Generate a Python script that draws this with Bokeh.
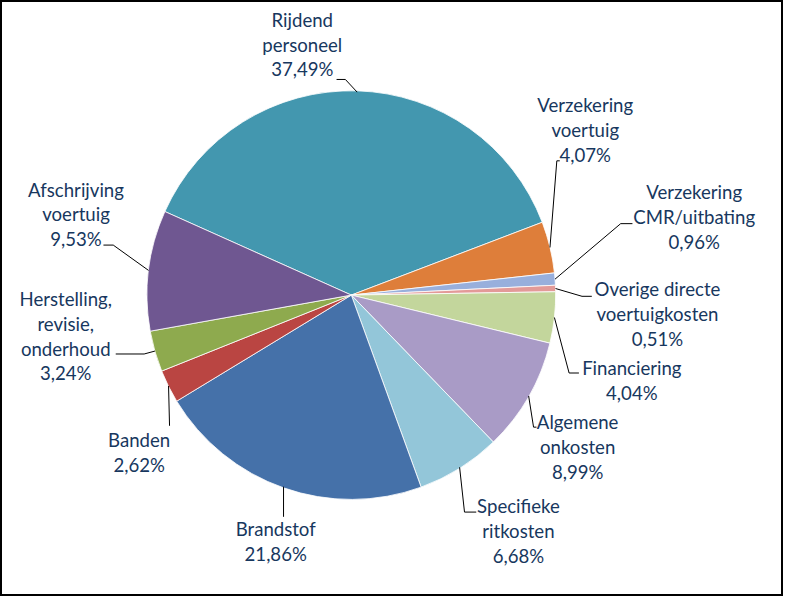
import math
from bokeh.plotting import figure
from bokeh.models import Range1d, ColumnDataSource
from bokeh.core.properties import value
from bokeh.embed import file_html
from bokeh.resources import INLINE

# ---- data (clockwise from the top slice) ----
categories = [
    "Rijdend personeel",
    "Verzekering voertuig",
    "Verzekering CMR/uitbating",
    "Overige directe voertuigkosten",
    "Financiering",
    "Algemene onkosten",
    "Specifieke ritkosten",
    "Brandstof",
    "Banden",
    "Herstelling, revisie, onderhoud",
    "Afschrijving voertuig",
]
percentages = [37.49, 4.07, 0.96, 0.51, 4.04, 8.99, 6.68, 21.86, 2.62, 3.24, 9.53]

# ---- styling / layout ----
palette = ["#4397AF", "#DE7E3A", "#98AFDC", "#E39A98", "#C3D69C",
           "#A99BC6", "#93C6D9", "#4571A9", "#BA4542", "#8EAA4E", "#6F5791"]
label_lines = [
    ["Rijdend", "personeel"],
    ["Verzekering", "voertuig"],
    ["Verzekering", "CMR/uitbating"],
    ["Overige directe", "voertuigkosten"],
    ["Financiering"],
    ["Algemene", "onkosten"],
    ["Specifieke", "ritkosten"],
    ["Brandstof"],
    ["Banden"],
    ["Herstelling,", "revisie,", "onderhoud"],
    ["Afschrijving", "voertuig"],
]
# offsets (px, y down) relative to the slice's outer mid point:
# text first-line centre, leader start, leader elbow
label_layout = [
    ((-56, -74), (-21, -13), (-12, -13)),
    ((36, -146), (10, -89), (7, -89)),
    ((142, -89), (79, -57), (67, -57)),
    ((104, 1), (37, 8), (27, 8)),
    ((79, 52), (25, 57), (15, 57)),
    ((50, 27), (8, 32), (5, 32)),
    ((60, 40), (17, 46), (5, 46)),
    ((-8, 44), (0, 31), (0, 31)),
    ((-30, 56), (1, 41), (1, 41)),
    ((-91, -53), (-40, 3), (-11, 3)),
    ((-74, -83), (-46, -26), (-36, -26)),
]

W, H = 799, 612
CX, CY = 358, H - 302.5
R = 208.5
START = 155.86   # degrees, math orientation, slices run clockwise
LINE_H = 25.3
FONT = "Lato"
TEXT_COLOR = "#17375E"

p = figure(width=783, height=596, output_backend="svg", toolbar_location=None,
           x_range=Range1d(0, W), y_range=Range1d(0, H),
           x_axis_location=None, y_axis_location=None, min_border=0)
p.grid.visible = False
p.outline_line_color = "black"
p.outline_line_width = 3
p.background_fill_color = "white"
p.border_fill_color = "white"

total = sum(percentages)
starts, ends, mids = [], [], []
acc = 0.0
for v in percentages:
    a0 = START - 360.0 * acc / total
    a1 = START - 360.0 * (acc + v) / total
    starts.append(math.radians(a1))
    ends.append(math.radians(a0))
    mids.append(math.radians((a0 + a1) / 2))
    acc += v

src = ColumnDataSource(dict(start=starts, end=ends, color=palette, cat=categories))
p.wedge(x=CX, y=CY, radius=R, start_angle="start", end_angle="end",
        direction="anticlock", fill_color="color",
        line_color="white", line_width=0.8, source=src)

for i, v in enumerate(percentages):
    m = mids[i]
    ex = CX + R * math.cos(m)
    ey = CY + R * math.sin(m)
    (tx, ty), (ax, ay), (bx, by) = label_layout[i]
    p.line([ex + ax, ex + bx, ex], [ey - ay, ey - by, ey],
           line_color="black", line_width=1)
    lines = label_lines[i] + [f"{v:.2f}".replace(".", ",") + "%"]
    xs = [ex + tx] * len(lines)
    ys = [ey - ty - LINE_H * k for k in range(len(lines))]
    p.text(x=xs, y=ys, text=lines, text_font=value(FONT), text_font_size="18.6px",
           text_color=TEXT_COLOR, text_align="center", text_baseline="middle")

open("out.html", "w").write(file_html(p, INLINE))
